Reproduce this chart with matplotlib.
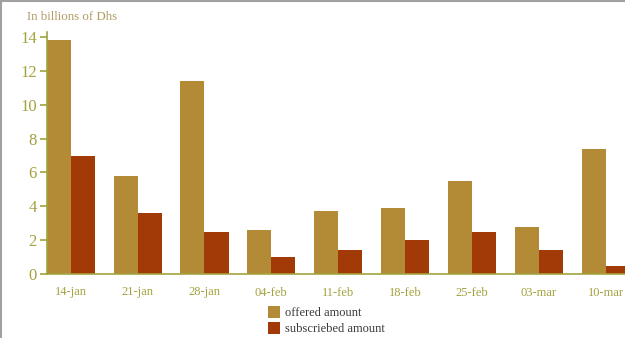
import numpy as np
import matplotlib.pyplot as plt
from matplotlib.lines import Line2D

# weekly auction amounts, billions of Dhs
dates = ["14-jan", "21-jan", "28-jan", "04-feb", "11-feb", "18-feb", "25-feb", "03-mar", "10-mar"]
offered = [13.8, 5.8, 11.4, 2.6, 3.7, 3.9, 5.5, 2.8, 7.4]
subscribed = [7.0, 3.6, 2.5, 1.0, 1.4, 2.0, 2.5, 1.4, 0.5]

offered_color = "#b38b36"
subscribed_color = "#a23a08"
axis_color = "#a3a23e"

plt.rcParams["font.family"] = "Liberation Serif"

fig = plt.figure(figsize=(6.25, 3.38), dpi=100)
ax = fig.add_axes([46.7 / 625, 64 / 338, 1 - 46.7 / 625, 242 / 338])

x = np.arange(len(dates))
w = 0.36
ax.bar(x - w / 2, offered, w, color=offered_color, label="offered amount")
ax.bar(x + w / 2, subscribed, w, color=subscribed_color, label="subscriebed amount")

ax.set_xlim(-w, 8.29)
ax.set_ylim(0, 14.3)
ax.set_yticks(range(0, 15, 2))
ax.set_xticks(x)
ax.set_xticklabels(dates)

for side in ["top", "right"]:
    ax.spines[side].set_visible(False)
for side in ["left", "bottom"]:
    ax.spines[side].set_color(axis_color)
    ax.spines[side].set_linewidth(1.2)

ax.tick_params(axis="y", colors=axis_color, labelsize=12, length=5, width=1.2, pad=2)
ax.tick_params(axis="x", colors=axis_color, labelsize=9, length=0, pad=9)

fig.text(27 / 625, 1 - 17 / 338, "In billions of Dhs", color="#b39c63",
         fontsize=9.3, va="center", ha="left")

fig.legend(loc="upper left", bbox_to_anchor=(259 / 625, 1 - 297 / 338),
           frameon=False, fontsize=9, labelcolor="#3a3a3a",
           handlelength=1.0, handleheight=1.1, handletextpad=0.4,
           labelspacing=0.25, borderpad=0.2)

# thin gray frame along the top and left edges
fig.add_artist(Line2D([0, 1], [1 - 1 / 338, 1 - 1 / 338], color="#a0a0a0", lw=1.5))
fig.add_artist(Line2D([1 / 625, 1 / 625], [0, 1], color="#a0a0a0", lw=1.5))

fig.savefig("out.png", dpi=100)
